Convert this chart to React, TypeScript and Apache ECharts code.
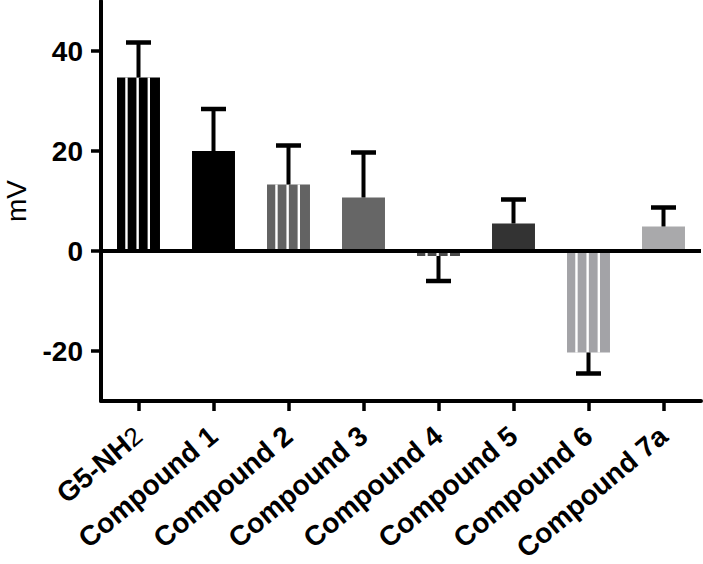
import React, { useEffect, useRef } from "react";
import * as echarts from "echarts";

const categories = ["G5-NH2", "Compound 1", "Compound 2", "Compound 3", "Compound 4", "Compound 5", "Compound 6", "Compound 7a"];
const values = [34.7, 20.0, 13.3, 10.7, -1.0, 5.5, -20.3, 4.9];
const errors = [7.0, 8.4, 7.8, 9.0, 5.0, 4.8, 4.2, 3.8];
const barColors = ["#000000", "#000000", "#636363", "#666666", "#4a4a4a", "#333333", "#a3a3a7", "#a9a9ab"];
const striped = [true, false, true, false, true, false, true, false];
const yTicks = [-20, 0, 20, 40];

const FONT = "'Liberation Sans', Arial, Helvetica, sans-serif";

export default function App() {
  const ref = useRef<HTMLDivElement>(null);
  useEffect(() => {
    if (!ref.current) return;
    const chart = echarts.init(ref.current, undefined, { renderer: "svg" });
    const data = values.map((v, i) => [i, v, errors[i]]);
    const option: any = {
      animation: false,
      backgroundColor: "#ffffff",
      grid: [
        { left: 101, right: 2, top: 1, bottom: 163, containLabel: false, outerBoundsMode: "none" },
        { left: 101, right: 2, top: 51, height: 300, containLabel: false, outerBoundsMode: "none" },
      ],
      xAxis: [
        {
          type: "category",
          gridIndex: 0,
          data: categories,
          axisLine: { show: true, onZero: false, lineStyle: { color: "#000", width: 4 } },
          axisTick: { show: true, alignWithLabel: true, length: 10, lineStyle: { color: "#000", width: 3.5 } },
          axisLabel: {
            rotate: 40,
            margin: 31,
            interval: 0,
            color: "#000",
            fontFamily: FONT,
            fontWeight: "bold",
            fontSize: 28,
            lineHeight: 28,
            formatter: (val: string) =>
              val === "G5-NH2" ? "{b|G5-NH}{s|2}" : "{b|" + val + "}",
            rich: {
              b: { fontFamily: FONT, fontWeight: "bold", fontSize: 28, lineHeight: 28, color: "#000" },
              s: { fontFamily: FONT, fontWeight: "normal", fontSize: 26, lineHeight: 28, color: "#000" },
            },
          },
        },
        {
          type: "category",
          gridIndex: 1,
          data: categories,
          show: false,
        },
      ],
      yAxis: [
        {
          type: "value",
          gridIndex: 0,
          min: -30,
          max: 50,
          name: "mV",
          nameLocation: "middle",
          nameGap: 71,
          nameTextStyle: { fontFamily: FONT, fontSize: 28, color: "#000", lineHeight: 28 },
          axisLine: { show: true, onZero: false, lineStyle: { color: "#000", width: 4 } },
          axisTick: { show: false },
          axisLabel: { show: false },
          splitLine: { show: false },
        },
        {
          type: "value",
          gridIndex: 1,
          min: yTicks[0],
          max: yTicks[yTicks.length - 1],
          interval: 20,
          axisLine: { show: false, onZero: false },
          axisTick: { show: true, length: 10, lineStyle: { color: "#000", width: 3.5 } },
          axisLabel: {
            margin: 18,
            color: "#000",
            fontFamily: FONT,
            fontWeight: "bold",
            fontSize: 28,
          },
          splitLine: { show: false },
        },
      ],
      series: [
        {
          type: "custom",
          xAxisIndex: 0,
          yAxisIndex: 0,
          data,
          renderItem: (params: any, api: any) => {
            const i = api.value(0);
            const v = api.value(1);
            const err = api.value(2);
            const base = api.coord([i, 0]);
            const end = api.coord([i, v]);
            const errEnd = api.coord([i, v + (v >= 0 ? err : -err)]);
            const bandW = api.size([1, 0])[0];
            const w = bandW * 0.573;
            const x0 = base[0] - w / 2;
            const y0 = Math.min(base[1], end[1]);
            const h = Math.abs(base[1] - end[1]);
            const color = barColors[i];
            const children: any[] = [
              { type: "rect", shape: { x: x0, y: y0, width: w, height: h }, style: { fill: color } },
            ];
            if (striped[i]) {
              [0.22, 0.48, 0.74].forEach((f) => {
                children.push({
                  type: "rect",
                  shape: { x: x0 + w * f - 1.2, y: y0, width: 2.4, height: h },
                  style: { fill: "#ffffff" },
                });
              });
            }
            children.push({
              type: "line",
              shape: { x1: base[0], y1: end[1], x2: base[0], y2: errEnd[1] },
              style: { stroke: "#000", lineWidth: 4 },
            });
            children.push({
              type: "line",
              shape: { x1: base[0] - 12.5, y1: errEnd[1], x2: base[0] + 12.5, y2: errEnd[1] },
              style: { stroke: "#000", lineWidth: 4.5 },
            });
            return { type: "group", children };
          },
          markLine: {
            silent: true,
            symbol: ["none", "none"],
            label: { show: false },
            lineStyle: { color: "#000", width: 4, type: "solid" },
            data: [{ yAxis: 0 }],
          },
          z: 2,
        },
      ],
    };
    chart.setOption(option);
    return () => chart.dispose();
  }, []);
  return (
    <div
      ref={ref}
      style={{ position: "absolute", left: 0, top: 0, width: 703, height: 564, background: "#fff" }}
    />
  );
}
